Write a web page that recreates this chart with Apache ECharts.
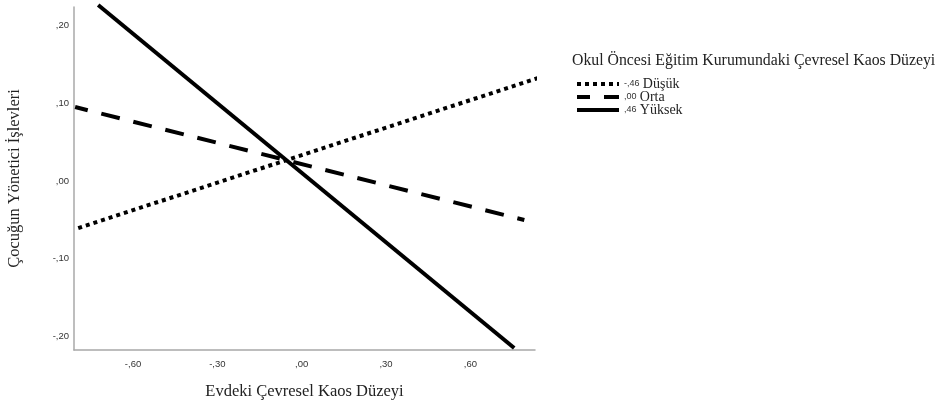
<!DOCTYPE html>
<html><head><meta charset="utf-8">
<script src="https://cdn.jsdelivr.net/npm/echarts@6/dist/echarts.min.js"></script>
<style>html,body{margin:0;padding:0;background:#fff}#c{width:947px;height:401px}</style>
</head><body><div id="c"></div>
<script>
const xTicks = [-0.6, -0.3, 0, 0.3, 0.6];
const yTicks = [-0.2, -0.1, 0, 0.1, 0.2];
const seriesNames = ['Düşük', 'Orta', 'Yüksek'];
const seriesCodes = ['-,46', ',00', ',46'];
const dusukX = [-0.795, 0.87];
const dusukY = [-0.0605, 0.136];
const ortaX = [-0.806, 0.792];
const ortaY = [0.0952, -0.0502];
const yuksekX = [-0.724, 0.756];
const yuksekY = [0.2265, -0.215];

function fmt(v){
  const s = Math.abs(v).toFixed(2).replace('0.', ',');
  return (v < -1e-9 ? '-' : '') + s;
}
function pts(xs, ys){ return xs.map((x,i)=>[x, ys[i]]); }

const serif = 'Liberation Serif';
const chart = echarts.init(document.getElementById('c'));
chart.setOption({
  animation: false,
  backgroundColor: '#fff',
  title: {
    text: 'Okul Öncesi Eğitim Kurumundaki Çevresel Kaos Düzeyi',
    left: 567, top: 48,
    textStyle: {fontFamily: serif, fontSize: 15.8, fontWeight: 'normal', color: '#222'}
  },
  legend: {
    orient: 'vertical', left: 570, top: 72,
    itemWidth: 42, itemHeight: 8, itemGap: -1,
    icon: 'inherit',
    itemStyle: {opacity: 0},
    lineStyle: {width: 4},
    data: seriesNames,
    formatter: function(name){
      const i = seriesNames.indexOf(name);
      return '{c|' + seriesCodes[i] + '} {t|' + name + '}';
    },
    textStyle: {
      rich: {
        c: {fontFamily: 'Liberation Sans', fontSize: 9, color: '#333', lineHeight: 13},
        t: {fontFamily: serif, fontSize: 14, color: '#222', lineHeight: 13}
      }
    }
  },
  grid: {left: 74, right: 412, top: 7, bottom: 51, outerBoundsMode: 'none', containLabel: false},
  xAxis: {
    type: 'value', min: -0.81, max: 0.83,
    name: 'Evdeki Çevresel Kaos Düzeyi', nameLocation: 'middle', nameGap: 33,
    nameTextStyle: {fontFamily: serif, fontSize: 16.5, color: '#222'},
    axisLine: {show: true, onZero: false, lineStyle: {color: '#a8a8a8', width: 1.5}},
    axisTick: {show: false},
    splitLine: {show: false},
    axisLabel: {customValues: xTicks, formatter: fmt, margin: 9,
      fontFamily: 'Liberation Sans', fontSize: 9.5, color: '#333'}
  },
  yAxis: {
    type: 'value', min: -0.2175, max: 0.224,
    name: 'Çocuğun Yönetici İşlevleri', nameLocation: 'middle', nameGap: 51,
    nameTextStyle: {fontFamily: serif, fontSize: 16.5, color: '#222'},
    axisLine: {show: true, onZero: false, lineStyle: {color: '#a8a8a8', width: 1.5}},
    axisTick: {show: false},
    splitLine: {show: false},
    axisLabel: {customValues: yTicks, formatter: fmt, margin: 5,
      fontFamily: 'Liberation Sans', fontSize: 9.5, color: '#333'}
  },
  series: [
    {name: seriesNames[0], type: 'line', data: pts(dusukX, dusukY), symbol: 'none', clip: false,
      lineStyle: {color: '#000', width: 4, type: [4, 4]}, itemStyle: {color: '#000'}},
    {name: seriesNames[1], type: 'line', data: pts(ortaX, ortaY), symbol: 'none', clip: false,
      lineStyle: {color: '#000', width: 4, type: [19, 14], dashOffset: 6}, itemStyle: {color: '#000'}},
    {name: seriesNames[2], type: 'line', data: pts(yuksekX, yuksekY), symbol: 'none', clip: false,
      lineStyle: {color: '#000', width: 4}, itemStyle: {color: '#000'}}
  ]
});
</script></body></html>
